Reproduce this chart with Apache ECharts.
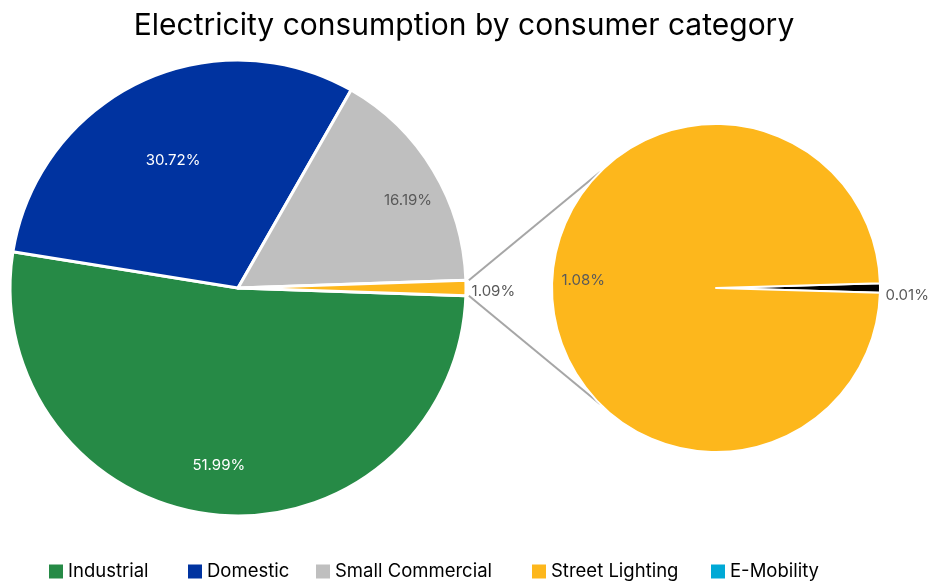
<!DOCTYPE html>
<html>
<head>
<meta charset="utf-8">
<script src="https://cdn.jsdelivr.net/npm/echarts@6/dist/echarts.min.js"></script>
<style>html,body{margin:0;padding:0;background:#fff}#c{width:928px;height:584px}</style>
</head>
<body>
<div id="c"></div>
<script>
// ---- data ----
const mainCategories = ['Industrial', 'Domestic', 'Small Commercial', 'Other'];
const mainValues = [51.99, 30.72, 16.19, 1.09];
const subCategories = ['E-Mobility', 'Street Lighting'];
const subValues = [0.01, 1.08];
const legendNames = ['Industrial', 'Domestic', 'Small Commercial', 'Street Lighting', 'E-Mobility'];
const titleText = 'Electricity consumption by consumer category';

// ---- styling / layout ----
const colors = {
  'Industrial': '#268A46',
  'Domestic': '#0033A0',
  'Small Commercial': '#BFBFBF',
  'Other': '#FDB71C',
  'Street Lighting': '#FDB71C',
  'E-Mobility': '#00A9D6'
};
const FONT = 'Inter, "Open Sans", sans-serif';
const M = {cx: 238, cy: 288, r: 228};
const S = {cx: 716, cy: 288, r: 164};
const mainTotal = mainValues.reduce((a, b) => a + b, 0);
const subTotal = subValues.reduce((a, b) => a + b, 0);
const mainStart = -(mainValues[3] / mainTotal * 360) / 2;
const subStart = (subValues[0] / subTotal * 360) / 2;

// label placement: ratio of radius + small pixel nudge
const mainLabelLayout = [
  {f: 0.78, dx: -2, dy: 0, color: '#fff'},
  {f: 0.63, dx: -3, dy: 2, color: '#fff'},
  {f: 0.84, dx: 6, dy: 11, color: '#595959'},
  {f: 1.12, dx: 0, dy: 3, color: '#595959'}
];
const subLabelLayout = [
  {f: 1.16, dx: 1, dy: 7, color: '#595959'},
  {f: 0.81, dx: 0, dy: -8, color: '#595959'}
];

function midAngles(values, start) {
  const total = values.reduce((a, b) => a + b, 0);
  let acc = -start; // screen-clockwise degrees
  return values.map(v => {
    const span = v / total * 360;
    const mid = acc + span / 2;
    acc += span;
    return mid;
  });
}
const mainMids = midAngles(mainValues, mainStart);
const subMids = midAngles(subValues, subStart);

function layoutFor(geo, mids, cfg) {
  return function (p) {
    const i = p.dataIndex;
    const a = mids[i] * Math.PI / 180;
    const c = cfg[i];
    return {
      x: geo.cx + c.f * geo.r * Math.cos(a) + c.dx,
      y: geo.cy + c.f * geo.r * Math.sin(a) + c.dy,
      align: 'center',
      verticalAlign: 'middle'
    };
  };
}

const fmt = p => p.value.toFixed(2) + '%';

const chart = echarts.init(document.getElementById('c'), null, {renderer: 'canvas'});

// connector lines from main "Other" slice edges to the secondary pie
const halfOther = (mainValues[3] / mainTotal * 360) / 2 * Math.PI / 180;
const p1 = [M.cx + M.r * Math.cos(halfOther) + 3, M.cy - M.r * Math.sin(halfOther)];
const p2 = [M.cx + M.r * Math.cos(halfOther) + 3, M.cy + M.r * Math.sin(halfOther)];
const q1 = [S.cx + S.r * Math.cos(Math.PI * 0.75), S.cy - S.r * Math.sin(Math.PI * 0.75)];
const q2 = [S.cx + S.r * Math.cos(Math.PI * 0.75), S.cy + S.r * Math.sin(Math.PI * 0.75)];

const legendLefts = [49, 188, 316, 532, 711];
const legends = legendNames.map((n, i) => ({
  left: legendLefts[i],
  top: 562,
  itemWidth: 14,
  itemHeight: 14,
  itemGap: 0,
  icon: 'rect',
  padding: 0,
  selectedMode: false,
  textStyle: {fontFamily: FONT, fontSize: 18.5, color: '#000', padding: [0, 0, 0, 0]},
  data: [{name: n, itemStyle: {color: colors[n], borderWidth: 0}}]
}));

chart.setOption({
  animation: false,
  backgroundColor: '#fff',
  title: {
    text: titleText,
    left: 'center',
    top: 6,
    textStyle: {fontFamily: FONT, fontSize: 30, fontWeight: 'normal', color: '#000'}
  },
  legend: legends,
  graphic: [
    {type: 'line', shape: {x1: p1[0], y1: p1[1], x2: q1[0], y2: q1[1]}, style: {stroke: '#A6A6A6', lineWidth: 2}, z: 0},
    {type: 'line', shape: {x1: p2[0], y1: p2[1], x2: q2[0], y2: q2[1]}, style: {stroke: '#A6A6A6', lineWidth: 2}, z: 0}
  ],
  series: [
    {
      type: 'pie',
      center: [M.cx, M.cy],
      radius: [0, M.r],
      startAngle: mainStart,
      clockwise: true,
      avoidLabelOverlap: false,
      itemStyle: {borderColor: '#fff', borderWidth: 3},
      label: {show: true, formatter: fmt, fontFamily: FONT, fontSize: 15, position: 'inside'},
      labelLine: {show: false},
      labelLayout: layoutFor(M, mainMids, mainLabelLayout),
      emphasis: {disabled: true},
      data: mainCategories.map((n, i) => ({
        name: n, value: mainValues[i],
        itemStyle: {color: colors[n]},
        label: {color: mainLabelLayout[i].color}
      })),
      z: 2
    },
    {
      type: 'pie',
      center: [S.cx, S.cy],
      radius: [0, S.r],
      startAngle: subStart,
      clockwise: true,
      avoidLabelOverlap: false,
      minAngle: 0,
      itemStyle: {borderColor: '#fff', borderWidth: 2},
      label: {show: true, formatter: fmt, fontFamily: FONT, fontSize: 15, position: 'inside'},
      labelLine: {show: false},
      labelLayout: layoutFor(S, subMids, subLabelLayout),
      emphasis: {disabled: true},
      data: subCategories.map((n, i) => ({
        name: n, value: subValues[i],
        itemStyle: {color: n === 'E-Mobility' ? '#000' : colors[n]},
        label: {color: subLabelLayout[i].color}
      })),
      z: 2
    }
  ]
});
</script>
</body>
</html>
